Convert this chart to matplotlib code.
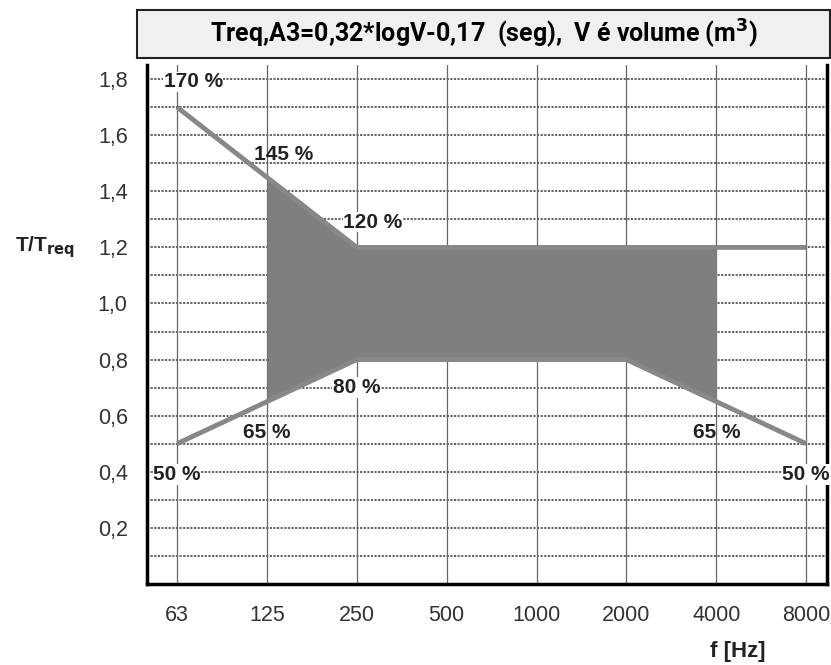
import numpy as np
import matplotlib
matplotlib.use('Agg')
from matplotlib import pyplot as plt
from matplotlib.patches import Rectangle

# frequencias (bandas de oitava)
freqs = ['63', '125', '250', '500', '1000', '2000', '4000', '8000']

# limites T/Treq
upper = [1.70, 1.45, 1.20, 1.20, 1.20, 1.20, 1.20, 1.20]
lower = [0.50, 0.65, 0.80, 0.80, 0.80, 0.80, 0.65, 0.50]

# area sombreada entre 125 Hz e 4000 Hz
fill_idx = [1, 2, 3, 4, 5, 6]

# rotulos de percentagem: (texto, x, y)
pct_text = ['170 %', '145 %', '120 %', '80 %', '65 %', '65 %', '50 %', '50 %']
pct_x = [0.18, 1.18, 2.18, 2.0, 1.0, 6.0, 0.0, 7.0]
pct_y = [1.79, 1.53, 1.29, 0.70, 0.54, 0.54, 0.39, 0.39]
pct_bg = [True, False, True, True, False, False, True, True]

plt.rcParams['font.family'] = ['Liberation Sans', 'DejaVu Sans']

fig = plt.figure(figsize=(8.31, 6.65), dpi=100)
ax = fig.add_axes([0.177, 0.122, 0.818, 0.78])

x = np.arange(len(freqs))

# grelha
for v in np.arange(0.1, 1.85, 0.1):
    ax.axhline(v, color='#555555', lw=1.3, ls=(0, (1.2, 0.8)), zorder=1)
for xi in x:
    ax.axvline(xi, color='#666666', lw=0.9, zorder=1)

fx = [x[i] for i in fill_idx]
ax.fill_between(fx, [lower[i] for i in fill_idx], [upper[i] for i in fill_idx],
                color='#7f7f7f', lw=0, zorder=2)
ax.plot(x, upper, color='#888888', lw=3.5, zorder=3, solid_capstyle='butt')
ax.plot(x, lower, color='#888888', lw=3.5, zorder=3, solid_capstyle='butt')

for t, px, py, bg in zip(pct_text, pct_x, pct_y, pct_bg):
    kw = {}
    if bg:
        kw['bbox'] = dict(facecolor='white', edgecolor='none', pad=0.5)
    ax.text(px, py, t, fontsize=15, fontweight='bold', color='#222222',
            ha='center', va='center', zorder=4, clip_on=False, **kw)

ax.set_xlim(-0.334, 7.23)
ax.set_ylim(0, 1.85)
ax.set_xticks(x)
ax.set_xticklabels(freqs)
ax.set_yticks([0.2, 0.4, 0.6, 0.8, 1.0, 1.2, 1.4, 1.6, 1.8])
ax.set_yticklabels(['0,2', '0,4', '0,6', '0,8', '1,0', '1,2', '1,4', '1,6', '1,8'])
ax.tick_params(length=0, labelsize=15.5, labelcolor='#333333')
ax.tick_params(axis='x', pad=15)
ax.tick_params(axis='y', pad=14)

ax.spines['top'].set_visible(False)
for s in ['left', 'bottom', 'right']:
    ax.spines[s].set_linewidth(2.5)
    ax.spines[s].set_color('black')

# titulo em caixa
fig.patches.append(Rectangle((137 / 831, 1 - 58 / 665), (830 - 137) / 831, 48 / 665,
                             transform=fig.transFigure, facecolor='#f0f0f0',
                             edgecolor='#222222', lw=1.5))
fig.text(0.582, 1 - 34 / 665, r'Treq,A3=0,32*logV-0,17  (seg),  V é volume (m$^\mathbf{3}$)',
         family=['Roboto', 'DejaVu Sans'], fontsize=18, fontweight='bold',
         ha='center', va='center')

fig.text(15 / 831, 1 - 247 / 665, r'T/T$_{\mathbf{req}}$', fontsize=15, fontweight='bold',
         ha='left', va='center', color='#222222')
fig.text(738 / 831, 1 - 651 / 665, 'f [Hz]', fontsize=16, fontweight='bold',
         ha='center', va='center', color='#222222')

fig.savefig('out.png', dpi=100)
